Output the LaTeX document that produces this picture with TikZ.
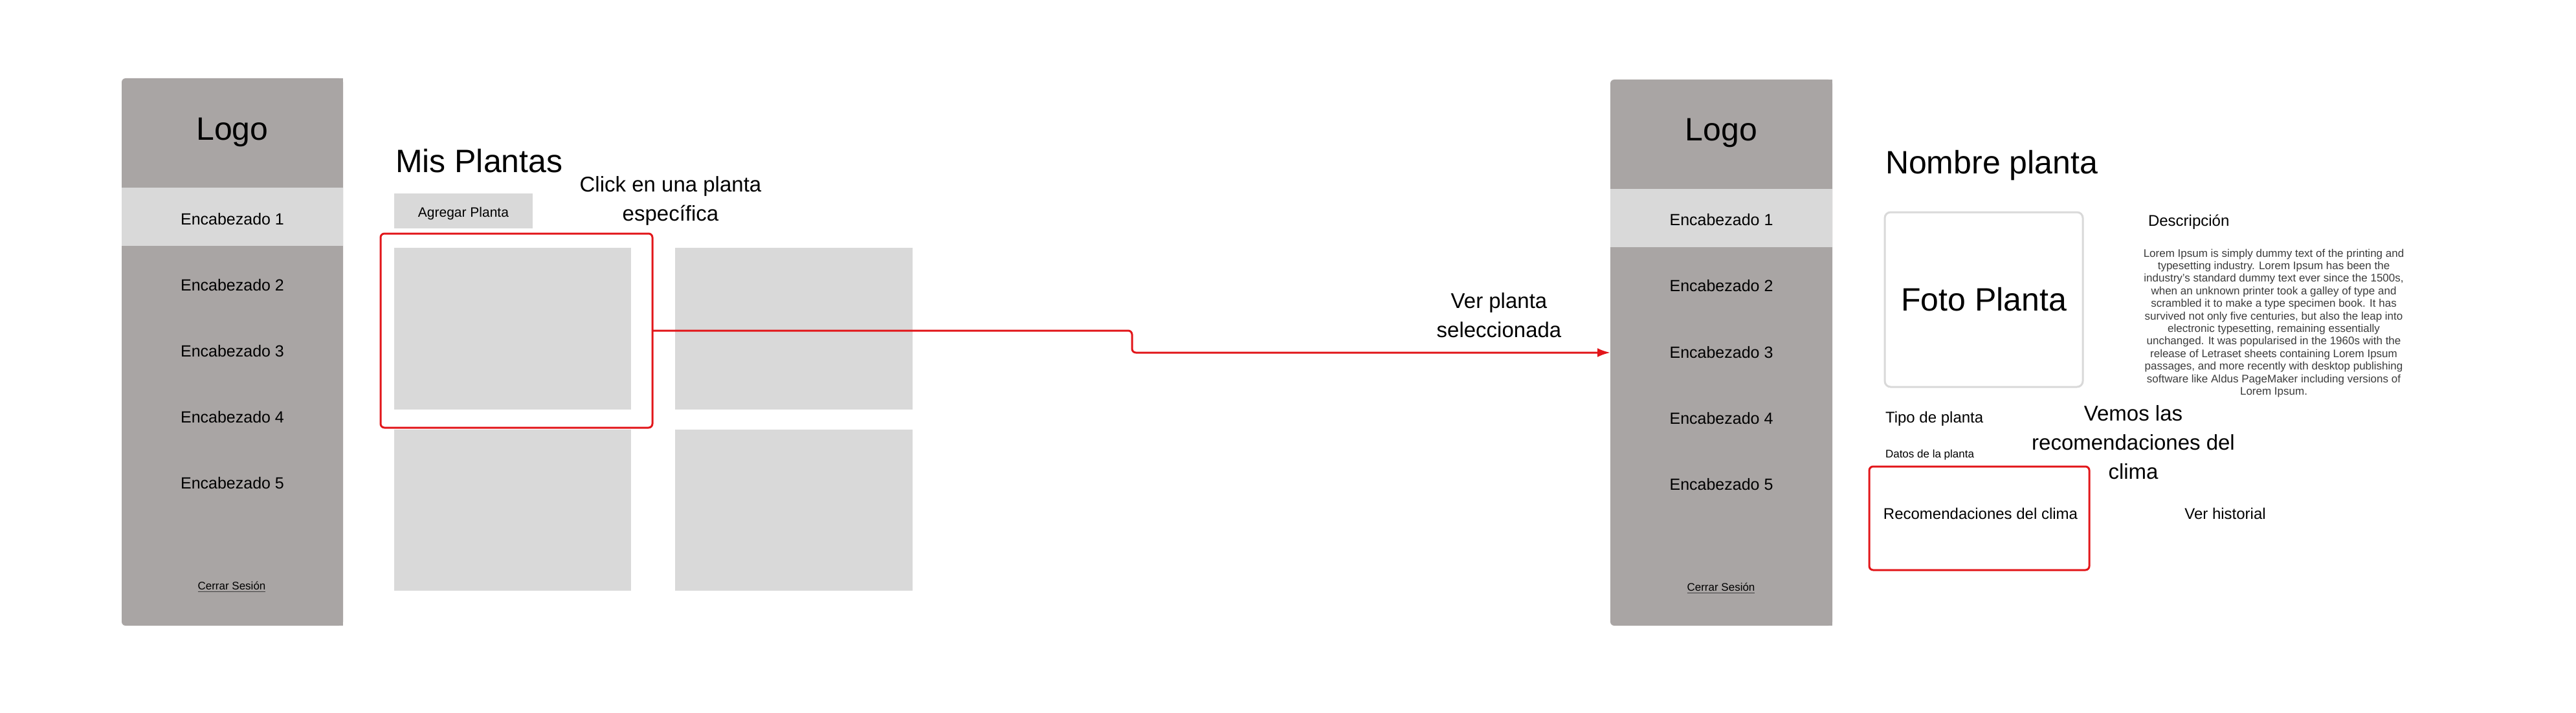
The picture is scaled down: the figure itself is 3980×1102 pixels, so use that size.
\documentclass[tikz,border=0pt]{standalone}
\usepackage{fontspec}
\setmainfont{Liberation Sans}
\usetikzlibrary{arrows.meta}
\definecolor{sidegray}{RGB}{169,165,164}
\definecolor{lgray}{RGB}{217,217,217}
\definecolor{wred}{RGB}{226,22,26}
\definecolor{loremgray}{RGB}{60,60,60}
\newcommand\fsz[2]{\fontsize{#1}{#2}\selectfont}
\newcommand\stacklines[1]{\vtop{\halign{\hfil##\hfil\cr#1\crcr}}}
\begin{document}
\begin{tikzpicture}[x=1pt,y=-1pt,
  every node/.style={inner sep=0pt, outer sep=0pt},
  sidebar/.style={fill=sidegray, rounded corners=6pt},
  band/.style={fill=lgray},
  card/.style={fill=lgray},
  redbox/.style={draw=wred, line width=3pt, rounded corners=6pt},
  conn/.style={draw=wred, line width=3pt, rounded corners=6pt, -{Latex[length=20pt,width=14pt]}},
  logo/.style={font=\fsz{50}{60}, anchor=base},
  menu/.style={font=\fsz{25}{30}, anchor=base},
  logout/.style={font=\fsz{17}{20}, anchor=base},
  title/.style={font=\fsz{50}{60}, anchor=base west},
  note/.style={font=\fsz{33}{45}, anchor=base},
  label/.style={font=\fsz{24}{28}},
]
\useasboundingbox[fill=white] (0,0) rectangle (3980,1102);

% ---------- left screen ----------
\node[sidebar, minimum width=342pt, minimum height=846pt] (side1) at (359,544) {};
\fill[sidegray] (359,121) rectangle (530,967);
\node[band, minimum width=342pt, minimum height=90pt] (band1) at (359,335) {};
\node[logo] (logo1) at (359,217) {Logo};
\node[menu] (e11) at (359,347) {Encabezado 1};
\node[menu] (e12) at (359,449.5) {Encabezado 2};
\node[menu] (e13) at (359,551.5) {Encabezado 3};
\node[menu] (e14) at (359,653.5) {Encabezado 4};
\node[menu] (e15) at (359,755.5) {Encabezado 5};
\node[logout] (cs1) at (358,911) {Cerrar Sesión};
\draw[line width=1.5pt, black!75] ([yshift=-3.5pt]cs1.base west) -- ([yshift=-3.5pt]cs1.base east);

\node[title] (mis) at (611,266) {Mis Plantas};
\node[card, minimum width=214pt, minimum height=54pt] (btn) at (716,326) {};
\node[label, font=\fsz{21}{25}, anchor=base] (btnt) at (716,335.5) {Agregar Planta};
\node[card, minimum width=366pt, minimum height=250pt] (c1) at (792,508) {};
\node[card, minimum width=367pt, minimum height=250pt] (c2) at (1226.5,508) {};
\node[card, minimum width=366pt, minimum height=249pt] (c3) at (792,788.5) {};
\node[card, minimum width=367pt, minimum height=249pt] (c4) at (1226.5,788.5) {};
\node[redbox, minimum width=420pt, minimum height=300pt] (sel) at (798,511) {};
\node[note] (click) at (1036,296) {\stacklines{Click en una planta\cr específica}};

% ---------- connector ----------
\coordinate (turn) at (1749,528);
\draw[conn] (sel.east) -| (turn) |- (2488,545) coordinate (arrend);
\node[note] (ver) at (2316,476) {\stacklines{Ver planta\cr seleccionada}};

% ---------- right screen ----------
\node[sidebar, minimum width=343pt, minimum height=844pt] (side2) at (2659.5,545) {};
\fill[sidegray] (2659,123) rectangle (2831,967);
\node[band, minimum width=343pt, minimum height=90pt] (band2) at (2659.5,337) {};
\node[logo] (logo2) at (2659.5,218) {Logo};
\node[menu] (e21) at (2659.5,348) {Encabezado 1};
\node[menu] (e22) at (2659.5,450.5) {Encabezado 2};
\node[menu] (e23) at (2659.5,553) {Encabezado 3};
\node[menu] (e24) at (2659.5,655) {Encabezado 4};
\node[menu] (e25) at (2659.5,757.5) {Encabezado 5};
\node[logout] (cs2) at (2659,913) {Cerrar Sesión};
\draw[line width=1.5pt, black!75] ([yshift=-3.5pt]cs2.base west) -- ([yshift=-3.5pt]cs2.base east);

\node[title] (nombre) at (2913,268) {Nombre planta};
\node[draw=lgray, line width=3pt, rounded corners=9pt, fill=white,
      minimum width=306pt, minimum height=270pt, font=\fsz{50}{60}] (foto) at (3065,463) {Foto Planta};
\node[label, anchor=base west] (desc) at (3319,349) {Descripción};
\node[font=\fsz{17}{19.4}, text=loremgray, anchor=base] (lorem) at (3513,397) {\stacklines{%
Lorem Ipsum is simply dummy text of the printing and\cr
typesetting industry. Lorem Ipsum has been the\cr
industry's standard dummy text ever since the 1500s,\cr
when an unknown printer took a galley of type and\cr
scrambled it to make a type specimen book. It has\cr
survived not only five centuries, but also the leap into\cr
electronic typesetting, remaining essentially\cr
unchanged. It was popularised in the 1960s with the\cr
release of Letraset sheets containing Lorem Ipsum\cr
passages, and more recently with desktop publishing\cr
software like Aldus PageMaker including versions of\cr
Lorem Ipsum.}};
\node[label, anchor=base west] (tipo) at (2913,653) {Tipo de planta};
\node[font=\fsz{17}{20}, anchor=base west] (datos) at (2913,707) {Datos de la planta};
\node[redbox, minimum width=340pt, minimum height=160pt] (recbox) at (3058,801) {};
\node[label, anchor=base] (rect) at (3060,802) {Recomendaciones del clima};
\node[label, anchor=base] (hist) at (3438,802) {Ver historial};
\node[note] (vemos) at (3296,650) {\stacklines{Vemos las\cr recomendaciones del\cr clima}};
\end{tikzpicture}
\end{document}
